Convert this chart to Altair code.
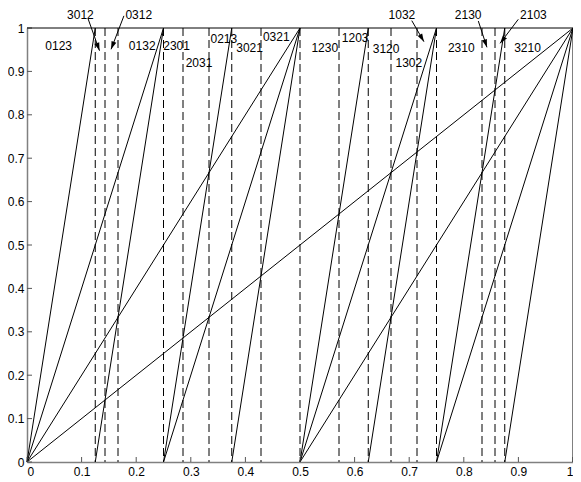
import math
import altair as alt
import pandas as pd

# ---- data -------------------------------------------------------------
# solid segments: graphs of x, 2x, 4x, 8x (mod 1)
seg_x0 = [0, 0, 0.5, 0, 0.25, 0.5, 0.75, 0, 0.125, 0.25, 0.375, 0.5, 0.625, 0.75, 0.875]
seg_x1 = [1, 0.5, 1, 0.25, 0.5, 0.75, 1, 0.125, 0.25, 0.375, 0.5, 0.625, 0.75, 0.875, 1]
seg_y0 = [0] * 15
seg_y1 = [1] * 15

# dashed boundaries
dash_x = [1/8, 1/7, 1/6, 1/4, 2/7, 1/3, 3/8, 3/7, 1/2, 4/7, 5/8, 2/3, 5/7, 3/4, 5/6, 6/7, 7/8]

# plain labels
lab_text = ["0123", "0132", "2301", "2031", "0213", "3021", "0321", "1230",
            "1203", "3120", "1302", "2310", "3210"]
lab_x = [0.058, 0.211, 0.274, 0.315, 0.3605, 0.4076, 0.4565, 0.5453,
         0.601, 0.6576, 0.6993, 0.7953, 0.9167]
lab_y = [0.9585, 0.9585, 0.9585, 0.9194, 0.9747, 0.9539, 0.9793, 0.9539,
         0.977, 0.9516, 0.9194, 0.9539, 0.9539]

# labels with arrows
arr_text = ["3012", "0312", "1032", "2130", "2103"]
arr_tx = [0.0978, 0.2047, 0.6866, 0.8080, 0.9275]
arr_ty = [1.0310, 1.0310, 1.0310, 1.0310, 1.0310]
arr_x0 = [0.1118, 0.1775, 0.7047, 0.8266, 0.8998]
arr_y0 = [1.0215, 1.028, 1.017, 1.016, 1.020]
arr_x1 = [0.1328, 0.154, 0.727, 0.8424, 0.8665]
arr_y1 = [0.9477, 0.951, 0.9685, 0.9555, 0.9647]

ticks = [0, 0.1, 0.2, 0.3, 0.4, 0.5, 0.6, 0.7, 0.8, 0.9, 1]

# ---- layout -----------------------------------------------------------
W, H = 546, 434
FONT = "Liberation Sans"
AX = "#808080"

xs = alt.Scale(domain=[0, 1], nice=False, zero=False)
ys = alt.Scale(domain=[0, 1], nice=False, zero=False)

seg_df = pd.DataFrame({"x0": seg_x0, "x1": seg_x1, "y0": seg_y0, "y1": seg_y1})
dash_df = pd.DataFrame({"x": dash_x})
lab_df = pd.DataFrame({"t": lab_text, "x": lab_x, "y": lab_y})
arr_df = pd.DataFrame({"t": arr_text, "tx": arr_tx, "ty": arr_ty,
                       "x0": arr_x0, "y0": arr_y0, "x1": arr_x1, "y1": arr_y1})
arr_df["ang"] = [
    (math.degrees(math.atan2((b - a) * W, (d - c) * H)) + 360) % 360
    for a, b, c, d in zip(arr_x0, arr_x1, arr_y0, arr_y1)
]
tick_df = pd.DataFrame({"v": ticks})

x_axis = alt.Axis(values=ticks, format="~g", ticks=False, tickSize=0, grid=False,
                  domainColor=AX, domainWidth=1.5, labelFont=FONT, labelFontSize=12,
                  labelColor="black", labelPadding=4, title=None)
y_axis = alt.Axis(values=ticks, format="~g", ticks=False, tickSize=0, grid=False,
                  domainColor=AX, domainWidth=1.5, labelFont=FONT, labelFontSize=12,
                  labelColor="black", labelPadding=3, title=None)

base_axes = alt.Chart(tick_df).mark_rule(opacity=0).encode(
    x=alt.X("v:Q", scale=xs, axis=x_axis),
    y=alt.Y("v:Q", scale=ys, axis=y_axis),
)

dashes = alt.Chart(dash_df).mark_rule(color="black", strokeWidth=1, strokeDash=[8, 4]).encode(
    x=alt.X("x:Q", scale=xs)
)

segs = alt.Chart(seg_df).mark_rule(color="black", strokeWidth=1).encode(
    x=alt.X("x0:Q", scale=xs), x2="x1:Q",
    y=alt.Y("y0:Q", scale=ys), y2="y1:Q",
)

xticks = alt.Chart(tick_df).mark_rule(color="#555", strokeWidth=1).encode(
    x=alt.X("v:Q", scale=xs), y=alt.value(H), y2=alt.value(H - 5)
)
yticks = alt.Chart(tick_df).mark_rule(color="#555", strokeWidth=1).encode(
    y=alt.Y("v:Q", scale=ys), x=alt.value(0), x2=alt.value(5)
)

top_border = alt.Chart(tick_df.head(1)).mark_rule(color="black", strokeWidth=1).encode(
    x=alt.value(0), x2=alt.value(W), y=alt.value(0)
)
right_border = alt.Chart(tick_df.head(1)).mark_rule(color="black", strokeWidth=1).encode(
    x=alt.value(W), y=alt.value(0), y2=alt.value(H)
)

labels = alt.Chart(lab_df).mark_text(font=FONT, fontSize=12, color="black",
                                     align="center", baseline="middle").encode(
    x=alt.X("x:Q", scale=xs), y=alt.Y("y:Q", scale=ys), text="t:N"
)
arr_labels = alt.Chart(arr_df).mark_text(font=FONT, fontSize=12, color="black",
                                         align="center", baseline="middle").encode(
    x=alt.X("tx:Q", scale=xs), y=alt.Y("ty:Q", scale=ys), text="t:N"
)
arr_lines = alt.Chart(arr_df).mark_rule(color="black", strokeWidth=1).encode(
    x=alt.X("x0:Q", scale=xs), x2="x1:Q",
    y=alt.Y("y0:Q", scale=ys), y2="y1:Q",
)
arr_heads = alt.Chart(arr_df).mark_point(
    shape="M0,0L0.32,1L-0.32,1Z", filled=True, color="black", opacity=1, size=256,
    strokeWidth=0
).encode(
    x=alt.X("x1:Q", scale=xs), y=alt.Y("y1:Q", scale=ys),
    angle=alt.Angle("ang:Q", scale=None),
)

chart = alt.layer(
    base_axes, dashes, segs, xticks, yticks, top_border, right_border,
    labels, arr_labels, arr_lines, arr_heads
).properties(
    width=W, height=H,
    padding={"left": 19, "top": 20, "right": 0, "bottom": 16},
    autosize=alt.AutoSizeParams(type="none"),
    background="white",
).configure_view(strokeWidth=0)

chart.save("out.html", embed_options={"renderer": "svg", "actions": False})
